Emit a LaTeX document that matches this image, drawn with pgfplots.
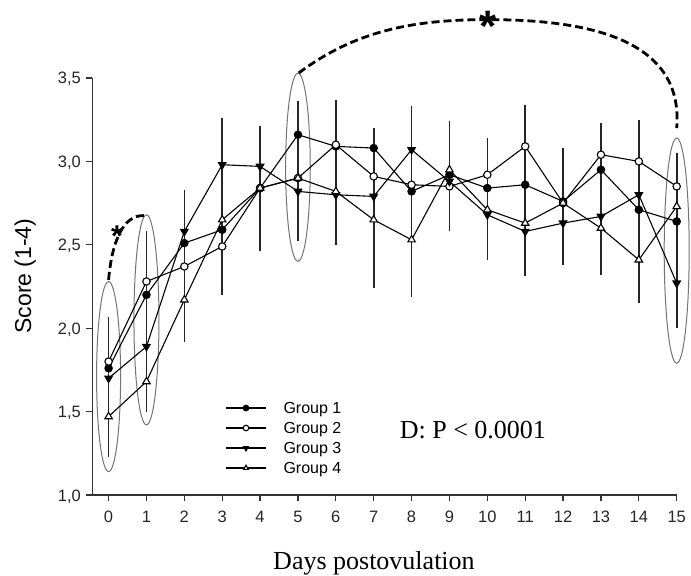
\documentclass[border=0pt]{standalone}
\usepackage{fontspec}
\setmainfont{Liberation Serif}
\setsansfont{Liberation Sans}
\usepackage{pgfplots}
\usepackage{pgfplotstable}
\pgfplotsset{compat=1.18}

% day, group means (score 1-4)
\pgfplotstableread{
day  g1    g2    g3    g4
0    1.76  1.80  1.70  1.47
1    2.20  2.28  1.89  1.68
2    2.51  2.37  2.58  2.17
3    2.59  2.49  2.98  2.65
4    2.84  2.84  2.97  2.84
5    3.16  2.90  2.82  2.90
6    3.09  3.10  2.80  2.82
7    3.08  2.91  2.79  2.65
8    2.82  2.86  3.07  2.53
9    2.92  2.85  2.88  2.95
10   2.84  2.92  2.68  2.71
11   2.86  3.09  2.58  2.63
12   2.76  2.75  2.63  2.75
13   2.95  3.04  2.67  2.60
14   2.71  3.00  2.80  2.41
15   2.64  2.85  2.27  2.73
}\means

% error bar extent per day: centre and half length
\pgfplotstableread{
day  mid    err
0    1.65   0.42
1    2.04   0.54
2    2.375  0.455
3    2.73   0.53
4    2.835  0.375
5    2.94   0.42
6    2.935  0.435
7    2.72   0.48
8    2.76   0.57
9    2.91   0.33
10   2.775  0.365
11   2.825  0.515
12   2.73   0.35
13   2.775  0.455
14   2.70   0.55
15   2.525  0.525
}\bars

\begin{document}
\begin{tikzpicture}
\begin{axis}[
  name=ax,
  scale only axis,
  width=584.4bp, height=417bp,
  xmin=-0.43, xmax=15, ymin=1, ymax=3.5,
  axis lines*=left,
  clip=false,
  xtick={0,...,15},
  ytick={1,1.5,2,2.5,3,3.5},
  tick align=outside,
  major tick length=6bp,
  axis line style={line width=1.3bp, black!80},
  major tick style={line width=1.3bp, black!80},
  /pgf/number format/assume math mode=true,
  ticklabel style={font=\sffamily\fontsize{16.5bp}{18bp}\selectfont, black!85, text height=12bp, text depth=0bp},
  xticklabel style={yshift=-6bp},
  yticklabel style={xshift=-2bp, /pgf/number format/.cd, fixed, fixed zerofill, precision=1, use comma},
  xlabel={Days postovulation},
  xlabel style={at={(axis description cs:0.482,-0.163)}, anchor=center, font=\fontsize{26bp}{30bp}\selectfont},
  ylabel={Score (1-4)},
  ylabel style={at={(axis description cs:-0.115,0.525)}, anchor=center, font=\sffamily\fontsize{23bp}{26bp}\selectfont},
  legend style={at={(axis cs:3.08,1.557)}, anchor=north west, draw=none, fill=none,
    inner sep=0pt, row sep=8.5bp, column sep=17bp,
    font=\sffamily\fontsize{16bp}{18bp}\selectfont,
    nodes={inner sep=0pt, text height=11.5bp, text depth=0bp}},
  legend cell align=left,
  legend image code/.code={\draw[mark repeat=2, mark phase=2, #1, mark size=2.8bp] plot coordinates {(0bp,0bp) (20bp,0bp) (40bp,0bp)};},
]

\addplot[forget plot, draw=none, mark=none,
  error bars/.cd, y dir=both, y explicit, error mark=none,
  error bar style={draw=black!85, line width=1.6bp, solid}]
  table[x=day, y=mid, y error=err] {\bars};

\draw[black!55, line width=1bp] (axis cs:0,1.71) ellipse [x radius=12bp, y radius=95bp];
\draw[black!55, line width=1bp] (axis cs:1,2.05) ellipse [x radius=12.5bp, y radius=105bp];
\draw[black!55, line width=1bp] (axis cs:5,2.965) ellipse [x radius=12.3bp, y radius=94bp];
\draw[black!55, line width=1bp] (axis cs:15,2.465) ellipse [x radius=12.5bp, y radius=112.6bp];

\addplot[black, line width=1.1bp, mark=*, mark size=3.7bp, mark options={fill=black}]
  table[x=day, y=g1] {\means};
\addlegendentry{Group 1}
\addplot[black, line width=1.1bp, mark=*, mark size=3.7bp, mark options={fill=white}]
  table[x=day, y=g2] {\means};
\addlegendentry{Group 2}
\addplot[black, line width=1.1bp, mark=triangle*, mark size=4.3bp, mark options={rotate=180, fill=black}]
  table[x=day, y=g3] {\means};
\addlegendentry{Group 3}
\addplot[black, line width=1.1bp, mark=triangle*, mark size=4.3bp, mark options={fill=white}]
  table[x=day, y=g4] {\means};
\addlegendentry{Group 4}

\draw[black, line width=2.8bp, dash pattern=on 8bp off 4bp]
  (axis cs:0,2.29) .. controls (axis cs:0.08,2.50) and (axis cs:0.35,2.68) .. (axis cs:0.93,2.675);
\draw[black, line width=2.8bp, dash pattern=on 8bp off 4bp]
  (axis cs:5.02,3.53) .. controls (axis cs:6.5,3.78) and (axis cs:8,3.85) .. (axis cs:10,3.85)
  .. controls (axis cs:12.5,3.85) and (axis cs:15.2,3.75) .. (axis cs:15,3.20);
\node[font=\sffamily\bfseries\fontsize{30bp}{32bp}\selectfont, anchor=base, yshift=-17bp, inner sep=0pt] at (axis cs:0.22,2.59) {*};
\node[font=\sffamily\bfseries\fontsize{44bp}{46bp}\selectfont, anchor=base, yshift=-25bp, inner sep=0pt] at (axis cs:10.01,3.87) {*};

\node[font=\fontsize{26bp}{30bp}\selectfont, inner sep=0pt] at (axis cs:9.62,1.39) {D: P < 0.0001};
\end{axis}
\pgfresetboundingbox
\path[use as bounding box] (ax.south west) ++(-92.3bp,-81bp) rectangle ++(691bp,576bp);
\end{tikzpicture}
\end{document}
